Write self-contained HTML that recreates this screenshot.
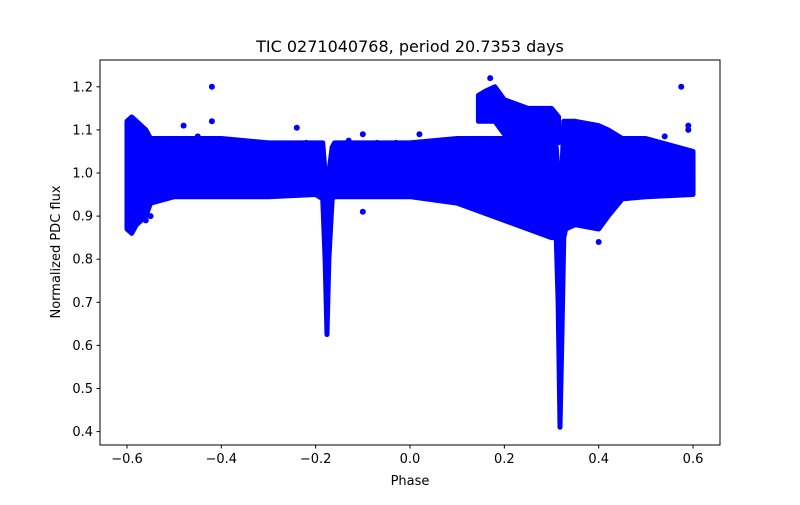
<!DOCTYPE html>
<html><head><meta charset="utf-8"><style>
body{margin:0;background:#fff;}
svg text{font-family:"DejaVu Sans","Liberation Sans",sans-serif;fill:#000;}
</style></head><body>
<svg id="chart" width="800" height="500" viewBox="0 0 800 500">
<rect x="0" y="0" width="800" height="500" fill="#fff"/>
<g id="marks"></g>
<rect x="100" y="60" width="620" height="385" fill="none" stroke="#000" stroke-width="1"/>
<g id="xticks"></g>
<g id="yticks"></g>
<text x="410" y="52" font-size="16" text-anchor="middle">TIC 0271040768, period 20.7353 days</text>
<text x="410" y="485" font-size="13" text-anchor="middle">Phase</text>
<text x="0" y="0" font-size="13" text-anchor="middle" transform="translate(60,252) rotate(-90)">Normalized PDC flux</text>
</svg>
<script>
const mainPhase=[-0.6,-0.59,-0.58,-0.56,-0.55,-0.5,-0.45,-0.4,-0.3,-0.2,-0.185,-0.18,-0.176,-0.172,-0.165,-0.16,-0.1,0,0.1,0.15,0.2,0.25,0.3,0.31,0.314,0.318,0.322,0.326,0.33,0.35,0.4,0.42,0.45,0.5,0.6];
const mainLow=[0.87,0.86,0.88,0.9,0.93,0.945,0.945,0.945,0.945,0.95,0.94,0.80,0.625,0.80,0.94,0.945,0.945,0.945,0.93,0.91,0.89,0.87,0.85,0.85,0.70,0.41,0.62,0.85,0.87,0.88,0.87,0.9,0.94,0.945,0.95];
const mainHigh=[1.12,1.13,1.12,1.10,1.08,1.08,1.08,1.08,1.07,1.07,1.07,1.0,0.96,1.0,1.06,1.07,1.07,1.07,1.08,1.08,1.08,1.08,1.07,1.06,1.0,0.92,1.0,1.12,1.12,1.12,1.11,1.1,1.08,1.08,1.05];
const upPhase=[0.145,0.16,0.18,0.2,0.25,0.3,0.315];
const upLow=[1.12,1.12,1.12,1.09,1.07,1.07,1.07];
const upHigh=[1.18,1.19,1.2,1.17,1.15,1.15,1.13];
const outX=[-0.42,0.575,0.17,-0.42,-0.24,-0.45,-0.22,-0.1,-0.1,-0.07,-0.03,-0.13,0.02,0.4,0.39,0.54,0.59,0.59,-0.56,-0.55,-0.48];
const outY=[1.2,1.2,1.22,1.12,1.105,1.085,1.07,1.09,0.91,1.07,1.07,1.075,1.09,0.84,1.1,1.085,1.11,1.1,0.89,0.9,1.11];
const xTicks=[-0.6,-0.4,-0.2,0.0,0.2,0.4,0.6];
const xTickLabels=["−0.6","−0.4","−0.2","0.0","0.2","0.4","0.6"];
const yTicks=[0.4,0.5,0.6,0.7,0.8,0.9,1.0,1.1,1.2];
const yTickLabels=["0.4","0.5","0.6","0.7","0.8","0.9","1.0","1.1","1.2"];
const NS="http://www.w3.org/2000/svg";
function X(v){return 410+v*471.7;}
function Y(v){return 173-(v-1.0)*431;}
const marks=document.getElementById('marks');
function band(ph,lo,hi,name){
  let pts=[];
  for(let i=0;i<ph.length;i++)pts.push(X(ph[i])+','+Y(hi[i]));
  for(let i=ph.length-1;i>=0;i--)pts.push(X(ph[i])+','+Y(lo[i]));
  const p=document.createElementNS(NS,'polygon');
  p.setAttribute('points',pts.join(' '));
  p.setAttribute('fill','#0000ff');p.setAttribute('stroke','#0000ff');
  p.setAttribute('stroke-width','5');p.setAttribute('stroke-linejoin','round');
  
  
  marks.appendChild(p);
}
band(mainPhase,mainLow,mainHigh,'flux-band');
band(upPhase,upLow,upHigh,'elevated-flux-band');
for(let i=0;i<outX.length;i++){
  const c=document.createElementNS(NS,'circle');
  c.setAttribute('cx',X(outX[i]));c.setAttribute('cy',Y(outY[i]));c.setAttribute('r','3');c.setAttribute('fill','#0000ff');
  
  
  marks.appendChild(c);
}
const xg=document.getElementById('xticks');
xTicks.forEach((v,i)=>{
  const l=document.createElementNS(NS,'line');
  l.setAttribute('x1',X(v));l.setAttribute('x2',X(v));l.setAttribute('y1',445);l.setAttribute('y2',448.5);l.setAttribute('stroke','#000');
  
  
  xg.appendChild(l);
  const t=document.createElementNS(NS,'text');
  t.setAttribute('x',X(v));t.setAttribute('y',463);t.setAttribute('font-size','13');t.setAttribute('text-anchor','middle');
  t.textContent=xTickLabels[i];
  
  
  xg.appendChild(t);
});
const yg=document.getElementById('yticks');
yTicks.forEach((v,i)=>{
  const l=document.createElementNS(NS,'line');
  l.setAttribute('x1',96.5);l.setAttribute('x2',100);l.setAttribute('y1',Y(v));l.setAttribute('y2',Y(v));l.setAttribute('stroke','#000');
  
  
  yg.appendChild(l);
  const t=document.createElementNS(NS,'text');
  t.setAttribute('x',93);t.setAttribute('y',Y(v)+4.5);t.setAttribute('font-size','13');t.setAttribute('text-anchor','end');
  t.textContent=yTickLabels[i];
  
  
  yg.appendChild(t);
});
</script>
</body></html>
